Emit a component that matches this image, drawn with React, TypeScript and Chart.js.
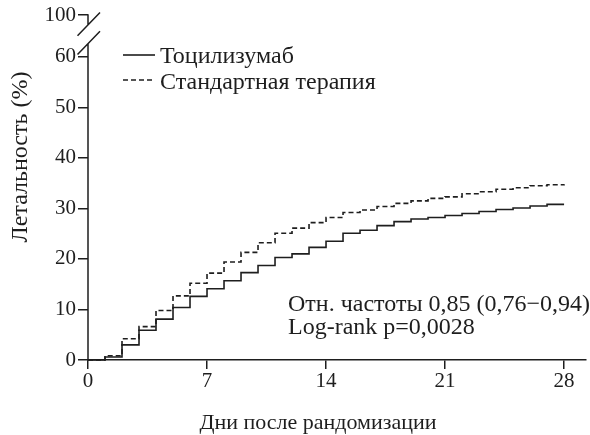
import React, { useEffect, useRef } from "react";
import { Chart, registerables } from "chart.js";

Chart.register(...registerables);

const days = [0, 1, 2, 3, 4, 5, 6, 7, 8, 9, 10, 11, 12, 13, 14, 15, 16, 17, 18, 19, 20, 21, 22, 23, 24, 25, 26, 27, 28];
const tocilizumab = [0, 0.6, 3.0, 5.9, 8.1, 10.4, 12.6, 14.1, 15.7, 17.3, 18.7, 20.3, 21.0, 22.3, 23.5, 25.1, 25.7, 26.6, 27.4, 27.9, 28.2, 28.6, 29.0, 29.4, 29.8, 30.1, 30.5, 30.8, 30.8];
const standard = [0, 0.85, 4.2, 6.6, 9.8, 12.7, 15.2, 17.2, 19.4, 21.3, 23.2, 25.1, 26.1, 27.2, 28.2, 29.2, 29.7, 30.4, 31.0, 31.5, 32.0, 32.3, 32.9, 33.3, 33.8, 34.1, 34.5, 34.7, 34.8];
const seriesNames = ["Тоцилизумаб", "Стандартная терапия"];
const xTickValues = [0, 7, 14, 21, 28];
const yTickValues = [0, 10, 20, 30, 40, 50, 60, 68.3];
const yTickLabels = ["0", "10", "20", "30", "40", "50", "60", "100"];
const xTitle = "Дни после рандомизации";
const yTitle = "Летальность (%)";
const annotationLines = ["Отн. частоты 0,85 (0,76−0,94)", "Log-rank p=0,0028"];

const INK = "#1e1e1e";
const FONT = "'Liberation Serif', 'DejaVu Serif', serif";

const decorPlugin = {
  id: "decor",
  afterDraw(chart: any) {
    const ctx = chart.ctx as CanvasRenderingContext2D;
    const area = chart.chartArea;
    const y = chart.scales.y;
    const left = area.left;
    const yTop = y.getPixelForValue(yTickValues[yTickValues.length - 1]);
    const y0 = y.getPixelForValue(0);
    const c1 = yTop + 9.7;
    const c2 = yTop + 28.6;
    ctx.save();
    ctx.strokeStyle = INK;
    ctx.lineWidth = 1.5;
    ctx.setLineDash([]);
    ctx.beginPath();
    ctx.moveTo(left, y0 + 0.75);
    ctx.lineTo(left, c2);
    ctx.moveTo(left, yTop - 0.75);
    ctx.lineTo(left, c1);
    ctx.moveTo(left + 12, c1 - 12.3);
    ctx.lineTo(left - 10.5, c1 + 11);
    ctx.moveTo(left + 12, c2 - 12.3);
    ctx.lineTo(left - 10.5, c2 + 11);
    ctx.stroke();

    // legend
    const ds = chart.data.datasets;
    const rows = [55, 80];
    ds.forEach((d: any, i: number) => {
      ctx.beginPath();
      ctx.lineWidth = 1.6;
      ctx.setLineDash(d.borderDash || []);
      ctx.moveTo(123, rows[i]);
      ctx.lineTo(155, rows[i]);
      ctx.stroke();
    });
    ctx.setLineDash([]);
    ctx.fillStyle = INK;
    ctx.font = `24px ${FONT}`;
    ctx.textAlign = "left";
    ctx.textBaseline = "alphabetic";
    ctx.fillText(ds[0].label, 160, 63);
    ctx.fillText(ds[1].label, 160, 89);

    // annotation
    ctx.font = `24px ${FONT}`;
    ctx.fillText(annotationLines[0], 288, 311);
    ctx.fillText(annotationLines[1], 288, 334);

    // titles
    ctx.font = `22px ${FONT}`;
    ctx.textAlign = "center";
    ctx.fillText(xTitle, 318, 429);
    ctx.font = `24px ${FONT}`;
    ctx.translate(27, 157);
    ctx.rotate(-Math.PI / 2);
    ctx.fillText(yTitle, 0, 0);
    ctx.restore();
  },
};

export default function App() {
  const ref = useRef<HTMLCanvasElement | null>(null);
  useEffect(() => {
    if (!ref.current) return;
    const chart = new Chart(ref.current, {
      type: "line",
      data: {
        datasets: [
          {
            label: seriesNames[0],
            data: days.map((d, i) => ({ x: d, y: tocilizumab[i] })),
            borderColor: INK,
            borderWidth: 1.6,
            pointRadius: 0,
            stepped: true,
            fill: false,
            clip: false as any,
          },
          {
            label: seriesNames[1],
            data: days.map((d, i) => ({ x: d, y: standard[i] })),
            borderColor: INK,
            borderWidth: 1.6,
            borderDash: [5, 3],
            pointRadius: 0,
            stepped: true,
            fill: false,
            clip: false as any,
          },
        ],
      },
      options: {
        animation: false,
        responsive: false,
        layout: { padding: { top: 15, right: 4, left: 0, bottom: 0 } },
        plugins: { legend: { display: false }, tooltip: { enabled: false } },
        scales: {
          x: {
            type: "linear",
            min: 0,
            max: 29.29,
            afterBuildTicks: (s: any) => {
              s.ticks = xTickValues.map((v) => ({ value: v }));
            },
            afterFit: (s: any) => {
              s.height = 75;
            },
            grid: { drawOnChartArea: false, drawTicks: true, tickLength: 9, color: INK, lineWidth: 1.5 },
            border: { display: true, color: INK, width: 1.5 },
            ticks: { color: INK, font: { family: FONT, size: 21 }, padding: 0, maxRotation: 0, autoSkip: false },
          },
          y: {
            type: "linear",
            min: 0,
            max: 68.3,
            afterBuildTicks: (s: any) => {
              s.ticks = yTickValues.map((v) => ({ value: v }));
            },
            afterFit: (s: any) => {
              s.width = 88;
            },
            grid: { drawOnChartArea: false, drawTicks: true, tickLength: 10, color: INK, lineWidth: 1.5 },
            border: { display: false },
            ticks: {
              color: INK,
              font: { family: FONT, size: 21 },
              padding: 2,
              autoSkip: false,
              callback: (_v: any, i: number) => yTickLabels[i],
            },
          },
        },
      },
      plugins: [decorPlugin],
    });
    return () => chart.destroy();
  }, []);
  return (
    <div style={{ position: "fixed", left: 0, top: 0, width: 590, height: 435, background: "#fff" }}>
      <canvas ref={ref} width={590} height={435} style={{ display: "block" }} />
    </div>
  );
}
